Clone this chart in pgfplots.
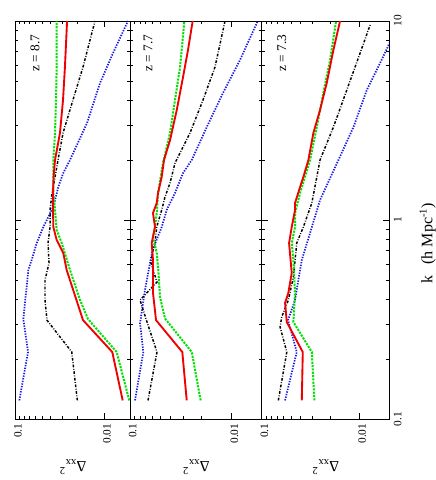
\documentclass[border=0pt]{standalone}
\usepackage{pgfplots}
\pgfplotsset{compat=1.18}
\usepackage{pgfplotstable}
\usepackage{fontspec}
\setmainfont{Liberation Serif}

\definecolor{gpred}{RGB}{240,0,0}
\definecolor{gpgreen}{RGB}{0,225,0}
\definecolor{gpblue}{RGB}{25,25,230}

% columns: k  Delta
\pgfplotstableread{
k D
0.124 0.00621
0.217 0.00813
0.314 0.01735
0.561 0.0265
0.682 0.0289
0.794 0.0343
0.922 0.0374
1.123 0.0377
1.367 0.0377
1.645 0.0372
2.002 0.0358
2.737 0.0315
4.009 0.0291
5.872 0.0277
10 0.0262
}\redA
\pgfplotstableread{
k D
0.124 0.00524
0.217 0.00726
0.318 0.01525
0.396 0.01875
0.561 0.0243
0.766 0.0301
0.891 0.0343
1.123 0.0358
1.367 0.0374
2.002 0.0374
2.737 0.0358
4.009 0.0349
5.872 0.0343
10 0.0343
}\greenA
\pgfplotstableread{
k D
0.124 0.0201
0.217 0.0232
0.314 0.0441
0.396 0.0464
0.499 0.0464
0.608 0.0418
0.766 0.0429
0.922 0.0407
1.123 0.0407
1.367 0.0387
1.645 0.0358
2.002 0.0331
2.737 0.0291
4.009 0.0225
5.872 0.01735
10 0.01272
}\blackA
\pgfplotstableread{
k D
0.124 0.0902
0.217 0.072
0.318 0.0813
0.561 0.0714
0.63 0.0655
0.766 0.0575
0.922 0.0485
1.162 0.0374
1.465 0.0329
1.723 0.0289
2.002 0.0243
3.07 0.01564
4.88 0.01117
6.9 0.00798
10 0.00542
}\blueA

\pgfplotstableread{
k D
0.124 0.0277
0.217 0.0306
0.314 0.0555
0.43 0.0594
0.63 0.0594
0.766 0.0612
0.922 0.0568
1.084 0.0594
1.217 0.0546
1.367 0.053
1.645 0.0488
2.002 0.0463
2.52 0.0404
3.57 0.0347
5.23 0.0301
7.15 0.0269
10 0.0242
}\redB
\pgfplotstableread{
k D
0.124 0.0202
0.217 0.0247
0.32 0.0453
0.41 0.0507
0.561 0.0527
0.682 0.0546
0.821 0.0594
0.922 0.0568
1.084 0.0546
1.367 0.053
1.933 0.0474
2.737 0.0404
4.009 0.0361
5.872 0.0322
10 0.0292
}\greenB
\pgfplotstableread{
k D
0.124 0.0665
0.217 0.0543
0.307 0.068
0.396 0.0797
0.488 0.0543
0.608 0.0622
0.706 0.0594
0.766 0.0568
0.922 0.0546
1.123 0.0488
1.305 0.0453
1.535 0.0404
1.933 0.0361
2.073 0.0337
2.737 0.0257
4.009 0.01915
5.872 0.0146
10 0.01164
}\blackB
\pgfplotstableread{
k D
0.124 0.0893
0.217 0.074
0.303 0.0797
0.445 0.0712
0.608 0.0636
0.706 0.06
0.922 0.0488
1.123 0.0436
1.367 0.0361
1.723 0.0301
2.002 0.0247
2.93 0.0176
4.35 0.01218
6.37 0.00829
10 0.00555
}\blueB

\pgfplotstableread{
k D
0.124 0.0389
0.217 0.038
0.307 0.0554
0.383 0.0577
0.43 0.0534
0.542 0.0493
0.766 0.0525
0.922 0.0493
1.123 0.0456
1.217 0.0456
1.465 0.0405
1.645 0.0375
2.002 0.0333
2.737 0.0296
3.57 0.0253
4.88 0.0216
7.15 0.01846
10 0.01578
}\redC
\pgfplotstableread{
k D
0.124 0.0289
0.217 0.0307
0.307 0.0474
0.43 0.0456
0.63 0.0474
0.766 0.0493
0.922 0.0456
1.084 0.0456
1.367 0.0405
2.002 0.032
2.93 0.0273
4.35 0.0234
6.37 0.01996
10 0.01733
}\greenC
\pgfplotstableread{
k D
0.124 0.0676
0.217 0.0554
0.29 0.0649
0.326 0.0624
0.396 0.0534
0.517 0.0474
0.766 0.0438
0.922 0.0375
1.217 0.0307
2.002 0.0253
2.93 0.01846
4.5 0.01346
6.9 0.00984
9.55 0.00777
}\blackC
\pgfplotstableread{
k D
0.124 0.0577
0.217 0.0438
0.314 0.0538
0.396 0.0456
0.499 0.0422
0.63 0.0389
0.86 0.032
1.26 0.0253
2.002 0.0164
2.93 0.0115
4.5 0.0084
6.15 0.00614
10 0.00383
}\blueC

\tikzset{
  sred/.style={draw=gpred, line width=1.4pt},
  sgreen/.style={draw=gpgreen, line width=1.5pt, dash pattern=on 1.6pt off 0.9pt},
  sblack/.style={draw=black, line width=1.1pt, dash pattern=on 2pt off 1.2pt on 0.6pt off 1.2pt},
  sblue/.style={draw=gpblue, line width=1.3pt, dash pattern=on 1pt off 1pt},
}

\pgfplotsset{every axis/.append style={
    scale only axis, height=298.5pt,
    x dir=reverse,
    xmax=0.1, ymin=0.1, ymax=10,
    xtick={0.01,0.1}, xticklabels={0.01,0.1},
    ytick={0.1,1,10},
    tick align=inside,
    major tick length=4.5pt, minor tick length=2.2pt,
    axis line style={line width=0.7pt},
    tick style={black, line width=0.5pt},
    tick label style={font=\fontsize{8.5}{10}\selectfont},
    xticklabel style={rotate=90, anchor=east, yshift=-2pt},
    yticklabel style={rotate=90, anchor=north},
}}

\newcommand{\dlabel}[1]{\node[yshift=-36pt, rotate=180, font=\fontsize{11.5}{13}\selectfont] at (#1.south) {Δ\textsubscript{xx}\textsuperscript{2}};}

\begin{document}
\begin{tikzpicture}
\useasboundingbox (-11.5pt,-45.75pt) rectangle (315.5pt,314.25pt);

\begin{loglogaxis}[name=p1, width=86pt, xmin=0.00514, yticklabels={}]
\addplot[sblue, mark=none] table[x=D,y=k] {\blueA};
\addplot[sblack, mark=none] table[x=D,y=k] {\blackA};
\addplot[sgreen, mark=none] table[x=D,y=k] {\greenA};
\addplot[sred, mark=none] table[x=D,y=k] {\redA};
\node[xshift=14.8pt, yshift=-24pt, rotate=90, font=\fontsize{10}{12}\selectfont] at (axis description cs:0,1) {z = 8.7};
\end{loglogaxis}

\begin{loglogaxis}[name=p2, at={(p1.south east)}, anchor=south west, width=98.8pt, xmin=0.00507, yticklabels={}]
\addplot[sblue, mark=none] table[x=D,y=k] {\blueB};
\addplot[sblack, mark=none] table[x=D,y=k] {\blackB};
\addplot[sgreen, mark=none] table[x=D,y=k] {\greenB};
\addplot[sred, mark=none] table[x=D,y=k] {\redB};
\node[xshift=13.5pt, yshift=-24pt, rotate=90, font=\fontsize{10}{12}\selectfont] at (axis description cs:0,1) {z = 7.7};
\end{loglogaxis}

\begin{loglogaxis}[name=p3, at={(p2.south east)}, anchor=south west, width=95.5pt, xmin=0.00497,
  yticklabels={0.1,1,10}, yticklabel pos=right]
\addplot[sblue, mark=none] table[x=D,y=k] {\blueC};
\addplot[sblack, mark=none] table[x=D,y=k] {\blackC};
\addplot[sgreen, mark=none] table[x=D,y=k] {\greenC};
\addplot[sred, mark=none] table[x=D,y=k] {\redC};
\node[xshift=15pt, yshift=-24pt, rotate=90, font=\fontsize{10}{12}\selectfont] at (axis description cs:0,1) {z = 7.3};
\end{loglogaxis}

\dlabel{p1}
\dlabel{p2}
\dlabel{p3}
\node[xshift=29pt, yshift=132pt, rotate=90, font=\fontsize{12}{14}\selectfont] at (p3.south east) {k\enspace\,(h Mpc\textsuperscript{-1})};
\end{tikzpicture}
\end{document}
